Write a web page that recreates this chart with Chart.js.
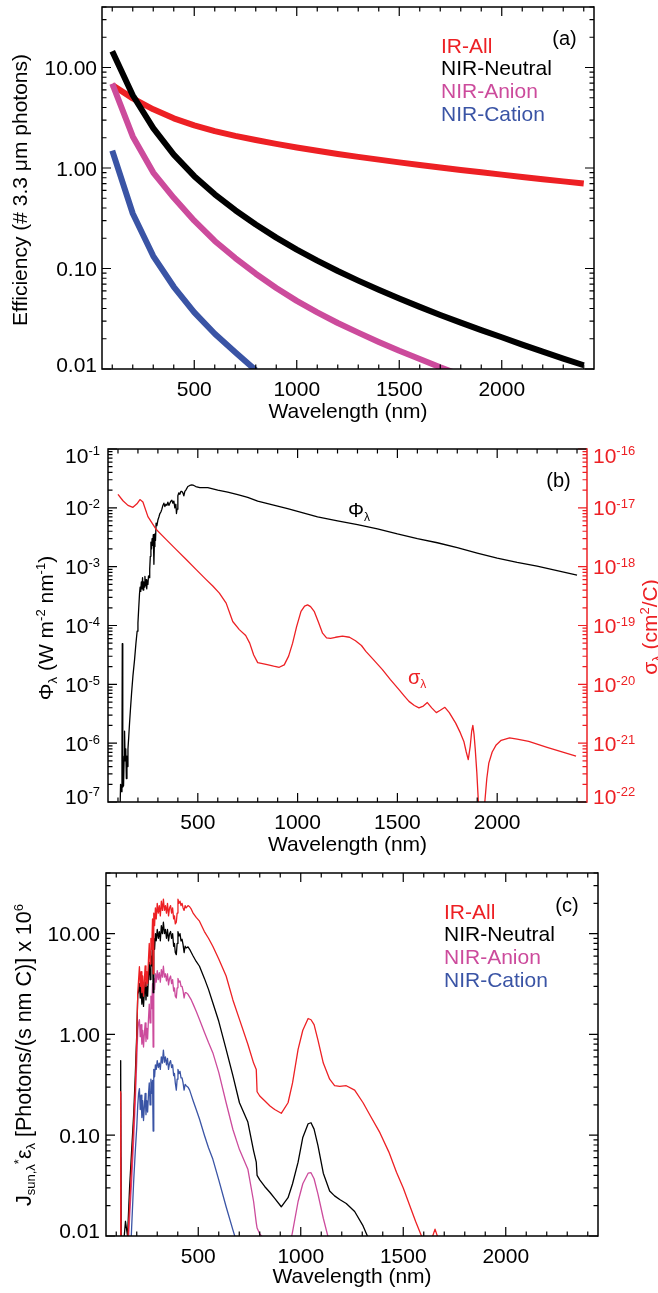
<!DOCTYPE html>
<html>
<head>
<meta charset="utf-8">
<script src="https://cdn.jsdelivr.net/npm/chart.js@4.4.1/dist/chart.umd.min.js"></script>
<style>
  body { margin: 0; background: #fff; }
  canvas { position: absolute; left: 0; }
</style>
</head>
<body>
<canvas id="panel-a" width="658" height="432" style="top:0"></canvas>
<canvas id="panel-b" width="658" height="432" style="top:432px"></canvas>
<canvas id="panel-c" width="658" height="429" style="top:864px"></canvas>
<script>
// ---- data: panel (a) efficiencies ----
const wavelengthA = [100, 200, 300, 400, 500, 600, 700, 800, 900, 1000, 1100, 1200,
                     1300, 1400, 1500, 1600, 1700, 1800, 1900, 2000, 2100, 2200, 2300, 2400];
const irAllA = [6.7, 4.93, 3.84, 3.12, 2.66, 2.33, 2.09, 1.897, 1.738, 1.600, 1.483, 1.380,
                1.291, 1.211, 1.138, 1.072, 1.012, 0.957, 0.906, 0.859, 0.815, 0.774, 0.736, 0.700];
const nirNeutralA = [14.5, 5.3, 2.49, 1.36, 0.83, 0.547, 0.380, 0.274, 0.203, 0.154, 0.1197, 0.0944,
                     0.0757, 0.0614, 0.0502, 0.0415, 0.0345, 0.0289, 0.0244, 0.0207, 0.0175, 0.0149, 0.0127, 0.0109];
const nirAnionA = [6.9, 2.06, 0.90, 0.505, 0.299, 0.188, 0.127, 0.0887, 0.0640, 0.0476, 0.0366, 0.0287,
                   0.0230, 0.0186, 0.0152, 0.0126, 0.0104, 0.0087];
const nirCationA = [1.49, 0.353, 0.133, 0.0658, 0.0366, 0.0224, 0.0147, 0.0097];

// ---- data: panel (b) solar flux and cross section ----
const phiWl = [108, 113, 117, 120, 121.6, 123, 125, 128, 131, 133,
  136, 139, 142, 145, 148, 150, 154, 158, 163, 168,
  175, 183, 190, 196, 200, 204, 208, 211, 214, 217,
  220, 223, 226, 229, 232, 235, 238, 241, 244, 247,
  250, 253, 256, 259, 262, 265, 268, 271, 274, 277,
  280, 282, 285, 288, 291, 295, 300, 305, 310, 315,
  320, 325, 330, 335, 340, 345, 350, 355, 360, 365,
  370, 375, 380, 385, 390, 393, 396, 400, 405, 410,
  415, 420, 425, 430, 435, 440, 450, 460, 470, 480,
  490, 500, 510, 520, 550, 575, 600, 650, 700, 750,
  800, 850, 900, 950, 1000, 1050, 1100, 1150, 1200, 1300,
  1400, 1500, 1600, 1700, 1800, 1900, 2000, 2100, 2200, 2300,
  2400];
const phiFlux = [3e-8, 2e-7, 1.5e-7, 5e-7, 4.9e-5, 5e-7, 1.8e-7, 1.9e-7, 6e-7, 1.6e-6,
  5e-7, 8e-7, 2.5e-7, 6e-7, 4e-7, 8e-7, 1.3e-6, 2.2e-6, 4e-6, 7e-6,
  1.4e-5, 2.6e-5, 5e-5, 8e-5, 1.1e-4, 2e-4, 3.5e-4, 4.5e-4, 3.8e-4, 5.5e-4,
  4.2e-4, 6.5e-4, 4e-4, 5.5e-4, 4.5e-4, 6.8e-4, 4.8e-4, 6e-4, 4.2e-4, 5.8e-4,
  5e-4, 7e-4, 6.5e-4, 9e-4, 1.5e-3, 2.6e-3, 2e-3, 3e-3, 2.3e-3, 3.5e-3,
  1.1e-3, 2.2e-3, 3.6e-3, 2.8e-3, 5.5e-3, 5e-3, 6.2e-3, 7e-3, 8e-3, 8.5e-3,
  9.5e-3, 1.1e-2, 1.2e-2, 1.05e-2, 1.15e-2, 1.1e-2, 1.25e-2, 1.1e-2, 1.2e-2, 1.3e-2,
  1.35e-2, 1.2e-2, 1.3e-2, 1.0e-2, 1.15e-2, 8e-3, 9.5e-3, 1.6e-2, 1.8e-2, 1.7e-2,
  1.9e-2, 1.9e-2, 1.8e-2, 1.6e-2, 1.9e-2, 2.0e-2, 2.3e-2, 2.4e-2, 2.45e-2, 2.4e-2,
  2.3e-2, 2.25e-2, 2.2e-2, 2.2e-2, 2.2e-2, 2.1e-2, 2.0e-2, 1.85e-2, 1.67e-2, 1.5e-2,
  1.3e-2, 1.18e-2, 1.07e-2, 9.7e-3, 8.7e-3, 7.8e-3, 7.0e-3, 6.5e-3, 6.0e-3, 5.2e-3,
  4.4e-3, 3.6e-3, 3.0e-3, 2.55e-3, 2.1e-3, 1.7e-3, 1.4e-3, 1.18e-3, 1.02e-3, 0.86e-3,
  0.72e-3];
const sigmaWl = [100, 125, 150, 175, 195, 210, 225, 250, 292, 342,
  392, 442, 492, 542, 575, 608, 642, 675, 708, 740,
  760, 780, 800, 842, 880, 908, 933, 955, 975, 995,
  1017, 1035, 1050, 1065, 1083, 1105, 1125, 1145, 1165, 1190,
  1225, 1260, 1290, 1320, 1342, 1380, 1425, 1465, 1508, 1535,
  1558, 1585, 1608, 1630, 1650, 1672, 1695, 1715, 1738, 1760,
  1792, 1815, 1833, 1845, 1855, 1865, 1872, 1878, 1884, 1890,
  1898, 1905, 1912, 1920, 1930, 1938, 1948, 1958, 1975, 1995,
  2020, 2062, 2100, 2158, 2250, 2395];
const sigmaCross = [1.70e-17, 1.32e-17, 1.10e-17, 1.02e-17, 1.17e-17, 1.38e-17, 1.26e-17, 7.08e-18, 4.27e-18, 2.88e-18,
  1.95e-18, 1.32e-18, 8.91e-19, 6.03e-19, 4.68e-19, 3.55e-19, 2.40e-19, 1.17e-19, 8.51e-20, 6.76e-20,
  5.01e-20, 3.16e-20, 2.34e-20, 2.19e-20, 2.04e-20, 1.95e-20, 2.14e-20, 3.02e-20, 5.01e-20, 9.55e-20,
  1.74e-19, 2.14e-19, 2.24e-19, 2.09e-19, 1.74e-19, 1.12e-19, 7.41e-20, 6.17e-20, 6.03e-20, 6.31e-20,
  6.61e-20, 6.31e-20, 5.50e-20, 4.57e-20, 3.63e-20, 2.63e-20, 1.78e-20, 1.20e-20, 8.13e-21, 6.31e-21,
  5.13e-21, 4.37e-21, 3.98e-21, 4.27e-21, 4.90e-21, 3.98e-21, 3.31e-21, 3.63e-21, 4.07e-21, 3.31e-21,
  2.19e-21, 1.51e-21, 1.07e-21, 7.08e-22, 5.25e-22, 8.91e-22, 1.58e-21, 2.00e-21, 1.41e-21, 7.94e-22,
  3.16e-22, 1.12e-22, 2.51e-23, 3.16e-24, 2.51e-23, 1.00e-22, 2.51e-22, 4.57e-22, 7.08e-22, 9.33e-22,
  1.12e-21, 1.23e-21, 1.17e-21, 1.07e-21, 8.51e-22, 6.03e-22];

// ---- data: panel (c) J_sun * eps ----
const wavelengthC = [110, 119, 121.6, 124, 135, 145, 155, 165, 175, 185,
  193, 200, 205, 209, 213, 217, 221, 225, 229, 233,
  237, 241, 245, 249, 253, 257, 261, 265, 269, 273,
  277, 280, 283, 287, 291, 295, 300, 305, 310, 315,
  320, 325, 330, 335, 340, 345, 350, 355, 360, 365,
  370, 375, 380, 384, 388, 393, 397, 401, 406, 411,
  416, 421, 426, 431, 436, 441, 450, 458, 466, 475,
  490, 506, 530, 550, 571, 600, 636, 669, 701, 742,
  770, 783, 787, 800, 824, 850, 873, 905, 938, 960,
  987, 1010, 1036, 1050, 1065, 1084, 1110, 1141, 1165, 1190,
  1222, 1263, 1304, 1340, 1386, 1430, 1467, 1500, 1532, 1560,
  1589, 1620, 1640, 1655, 1670, 1700];
const irAllC = [0.002, 0.003, 0.27, 0.003, 0.002, 0.003, 0.008, 0.02, 0.05, 0.13,
  0.3, 0.9, 2.6, 3.5, 4.7, 3.0, 4.2, 2.6, 3.8, 2.4,
  3.4, 4.8, 3.0, 4.2, 3.2, 5.5, 8.0, 5.0, 9.0, 7.0,
  14, 4.0, 16, 12, 18, 14, 20, 16, 19, 15,
  21, 17, 22, 17, 19, 16, 20, 15, 18, 19,
  16, 18, 14, 15, 12.5, 13, 16, 22, 20, 21,
  19, 20, 18, 17, 19, 18, 19, 18.5, 17.5, 16,
  14.5, 13.3, 10.5, 9, 7.5, 5.6, 3.8, 2.2, 1.41, 0.80,
  0.52, 0.45, 0.27, 0.245, 0.22, 0.195, 0.18, 0.165, 0.21, 0.33,
  0.71, 1.1, 1.44, 1.40, 1.25, 0.88, 0.52, 0.36, 0.31, 0.305,
  0.31, 0.28, 0.21, 0.155, 0.106, 0.068, 0.043, 0.030, 0.020, 0.014,
  0.010, 0.007, 0.0095, 0.0117, 0.0095, 0.006];
const nirNeutralC = [0.002, 0.004, 0.55, 0.004, 0.008, 0.014, 0.01, 0.03, 0.07, 0.16,
  0.4, 1.0, 2.5, 2.7, 3.2, 2.3, 3.0, 2.0, 2.8, 1.9,
  2.6, 3.3, 2.2, 3.0, 2.4, 3.8, 5.2, 3.5, 6.0, 4.8,
  8.5, 2.6, 9.0, 7.0, 10, 8.5, 11, 9.0, 10.5, 8.5,
  12, 10, 13, 10, 11, 9, 11, 8.5, 10, 10.5,
  9, 10, 7.5, 8, 6.5, 6.2, 8, 10.5, 9.5, 10,
  8.5, 8.8, 7.8, 6.5, 7.5, 7.2, 7.4, 7.0, 6.5, 6.0,
  5.3, 4.75, 3.6, 2.8, 2.06, 1.35, 0.71, 0.39, 0.21, 0.135,
  0.07, 0.054, 0.040, 0.036, 0.031, 0.027, 0.0236, 0.0195, 0.024, 0.033,
  0.054, 0.095, 0.13, 0.133, 0.115, 0.079, 0.042, 0.028, 0.025, 0.023,
  0.021, 0.0175, 0.0126, 0.0085];
const nirAnionC = [0.002, 0.003, 0.26, 0.003, 0.002, 0.003, 0.006, 0.015, 0.035, 0.09,
  0.22, 0.55, 1.1, 1.3, 1.4, 0.95, 1.25, 0.8, 1.1, 0.75,
  1.0, 1.3, 0.85, 1.15, 0.9, 1.4, 2.0, 1.3, 2.4, 1.8,
  3.2, 0.75, 3.6, 2.8, 4.0, 3.3, 4.3, 3.5, 4.1, 3.3,
  4.4, 3.7, 4.75, 3.7, 4.0, 3.4, 4.0, 3.1, 3.6, 3.8,
  3.2, 3.5, 2.7, 2.9, 2.4, 2.3, 2.9, 3.6, 3.3, 3.4,
  3.0, 3.0, 2.7, 2.3, 2.6, 2.6, 2.5, 2.35, 2.2, 2.0,
  1.7, 1.41, 1.05, 0.83, 0.66, 0.42, 0.21, 0.114, 0.072, 0.046,
  0.022, 0.0135, 0.012, 0.0105, 0.0092, 0.0065, 0.005, 0.004, 0.0065, 0.011,
  0.022, 0.033, 0.042, 0.0425, 0.037, 0.026, 0.015, 0.0085];
const nirCationC = [0.001, 0.001, 0.06, 0.001, 0.001, 0.001, 0.002, 0.004, 0.012, 0.035,
  0.07, 0.12, 0.2, 0.26, 0.29, 0.18, 0.25, 0.15, 0.22, 0.14,
  0.19, 0.26, 0.16, 0.22, 0.17, 0.25, 0.33, 0.2, 0.36, 0.26,
  0.35, 0.11, 0.45, 0.38, 0.5, 0.45, 0.55, 0.47, 0.52, 0.45,
  0.6, 0.52, 0.7, 0.53, 0.6, 0.5, 0.58, 0.45, 0.52, 0.55,
  0.47, 0.5, 0.39, 0.41, 0.33, 0.28, 0.36, 0.45, 0.41, 0.43,
  0.37, 0.37, 0.33, 0.28, 0.32, 0.31, 0.3, 0.28, 0.25, 0.22,
  0.18, 0.145, 0.1, 0.075, 0.058, 0.036, 0.0195, 0.0115, 0.007];

// ---- tick labels ----
const xTickValues = [500, 1000, 1500, 2000];
const effTickValues = [0.01, 0.1, 1, 10];
const fluxTickExps = [-7, -6, -5, -4, -3, -2, -1];
const sigmaTickExps = [-22, -21, -20, -19, -18, -17, -16];
const seriesNames = ['IR-All', 'NIR-Neutral', 'NIR-Anion', 'NIR-Cation'];

const FONT = "'Liberation Sans', Arial, Helvetica, sans-serif";
const RED = '#ed2024', MAGENTA = '#cc4b9c', BLUE = '#3a54a5', BLACK = '#000000';
const seriesColors = [RED, BLACK, MAGENTA, BLUE];
const TICK_SIZE = 21;

// text with sub/superscripts, y is the vertical middle of the caps
function drawRich(ctx, parts, x, y, size, align, color, rot) {
    const items = parts.map(([t, k]) => {
        const fs = k ? Math.round(size * 0.6) : size;
        ctx.font = fs + 'px ' + FONT;
        return { t, k, fs, w: ctx.measureText(t).width };
    });
    const total = items.reduce((s, it) => s + it.w, 0);
    ctx.save();
    ctx.translate(x, y);
    if (rot) ctx.rotate(rot);
    ctx.fillStyle = color;
    ctx.textAlign = 'left';
    ctx.textBaseline = 'alphabetic';
    let cx = align === 'center' ? -total / 2 : align === 'right' ? -total : 0;
    const base = size * 0.36;
    items.forEach(it => {
        ctx.font = it.fs + 'px ' + FONT;
        const dy = it.k === 'sup' ? -size * 0.34 : it.k === 'sub' ? size * 0.2 : 0;
        ctx.fillText(it.t, cx, base + dy);
        cx += it.w;
    });
    ctx.restore();
}

// IDL style box: inward ticks on every side, y labels, free texts
const idlFrame = {
    id: 'idlFrame',
    afterDatasetsDraw(chart, args, opts) {
        const ctx = chart.ctx;
        const { left, right, top, bottom } = chart.chartArea;
        const xs = chart.scales.x;
        ctx.save();
        ctx.lineWidth = 1.2;
        ctx.strokeStyle = BLACK;
        ctx.beginPath();
        for (let v = 100; v <= xs.max; v += 100) {
            const px = xs.getPixelForValue(v);
            const len = v % 500 === 0 ? 9 : 4.5;
            ctx.moveTo(px, bottom); ctx.lineTo(px, bottom - len);
            ctx.moveTo(px, top); ctx.lineTo(px, top + len);
        }
        ctx.stroke();

        opts.yAxes.forEach(a => {
            const s = chart.scales[a.scale];
            const edge = a.side === 'left' ? left : right;
            const dir = a.side === 'left' ? 1 : -1;
            ctx.strokeStyle = a.color;
            ctx.lineWidth = 1.2;
            ctx.beginPath();
            const e0 = Math.floor(Math.log10(s.min)) - 1;
            const e1 = Math.ceil(Math.log10(s.max));
            for (let e = e0; e <= e1; e++) {
                for (let k = 1; k <= 9; k++) {
                    const v = k * Math.pow(10, e);
                    if (v < s.min * 0.999 || v > s.max * 1.001) continue;
                    const py = s.getPixelForValue(v);
                    ctx.moveTo(edge, py);
                    ctx.lineTo(edge + dir * (k === 1 ? 9 : 4.5), py);
                }
            }
            ctx.stroke();
            (a.labels || []).forEach(lab => {
                let py = s.getPixelForValue(lab.v);
                if (Math.abs(lab.v / s.min - 1) < 1e-6) py += a.shiftMin || 0;
                if (Math.abs(lab.v / s.max - 1) < 1e-6) py += a.shiftMax || 0;
                const px = a.side === 'left' ? edge - a.gap : edge + a.gap;
                drawRich(ctx, lab.parts, px, py, a.size || TICK_SIZE, a.side === 'left' ? 'right' : 'left', a.color);
            });
        });

        ctx.lineWidth = 1.5;
        ctx.strokeStyle = BLACK;
        ctx.beginPath();
        ctx.moveTo(right, top); ctx.lineTo(left, top); ctx.lineTo(left, bottom); ctx.lineTo(right, bottom);
        ctx.stroke();
        ctx.strokeStyle = opts.rightColor || BLACK;
        ctx.beginPath();
        ctx.moveTo(right, top - 0.75); ctx.lineTo(right, bottom + 0.75);
        ctx.stroke();

        (opts.texts || []).forEach(t =>
            drawRich(ctx, t.parts, t.x, t.y, t.size || 20, t.align || 'left', t.color || BLACK, t.rot || 0));
        ctx.restore();
    }
};

function line(xs, ys, color, width, order, yAxisID) {
    return {
        data: ys.map((y, i) => ({ x: xs[i], y })),
        borderColor: color,
        borderWidth: width,
        pointRadius: 0,
        tension: 0,
        fill: false,
        clip: 0,
        order: order,
        borderJoinStyle: 'round',
        yAxisID: yAxisID || 'y'
    };
}

function xScale(height, titlePad) {
    return {
        type: 'linear', min: 50, max: 2450, bounds: 'data',
        grid: { display: false, drawTicks: false },
        border: { display: false },
        afterBuildTicks: s => { s.ticks = xTickValues.map(v => ({ value: v })); },
        afterFit: s => { s.height = height; },
        ticks: {
            color: BLACK, padding: 10.5, maxRotation: 0, autoSkip: false,
            font: { family: FONT, size: TICK_SIZE, lineHeight: 1 },
            callback: v => String(v)
        },
        title: {
            display: true, text: 'Wavelength (nm)', color: BLACK,
            font: { family: FONT, size: 21, lineHeight: 1 },
            padding: { top: 0, bottom: titlePad }
        }
    };
}

function yScale(min, max, width, position) {
    return {
        type: 'logarithmic', min, max, position, bounds: 'data',
        grid: { display: false, drawTicks: false },
        border: { display: false },
        ticks: { display: false },
        afterFit: s => { s.width = width; }
    };
}

function legendTexts(x, y0, step) {
    return seriesNames.map((n, i) => ({ parts: [[n, '']], x, y: y0 + i * step, size: 21, color: seriesColors[i] }));
}

const baseOptions = { responsive: false, animation: false, events: [] };
const effLabels = effTickValues.map(v => ({ v, parts: [[v.toFixed(2), '']] }));

// ---- panel (a) ----
new Chart(document.getElementById('panel-a'), {
    type: 'line',
    data: {
        datasets: [
            line(wavelengthA, irAllA, RED, 6, 4),
            line(wavelengthA, nirNeutralA, BLACK, 6, 3),
            line(wavelengthA, nirAnionA, MAGENTA, 6, 2),
            line(wavelengthA, nirCationA, BLUE, 6, 1)
        ]
    },
    options: {
        ...baseOptions,
        layout: { padding: { left: 0, right: 64, top: 7, bottom: 0 } },
        scales: { x: xScale(63, 9.5), y: yScale(0.01, 40, 102, 'left') },
        plugins: {
            legend: { display: false }, tooltip: { enabled: false },
            idlFrame: {
                yAxes: [
                    { scale: 'y', side: 'left', color: BLACK, labels: effLabels, gap: 5, shiftMin: -5 },
                    { scale: 'y', side: 'right', color: BLACK }
                ],
                texts: [
                    { parts: [['Efficiency (# 3.3 μm photons)', '']], x: 19.5, y: 190, size: 21, align: 'center', rot: -Math.PI / 2 },
                    { parts: [['(a)', '']], x: 564.5, y: 37.5, align: 'center' },
                    ...legendTexts(441, 45, 22.8)
                ]
            }
        }
    },
    plugins: [idlFrame]
});

// ---- panel (b) ----
new Chart(document.getElementById('panel-b'), {
    type: 'line',
    data: {
        datasets: [
            line(phiWl, phiFlux, BLACK, 1.3, 2, 'yL'),
            line(sigmaWl, sigmaCross, RED, 1.3, 1, 'yR')
        ]
    },
    options: {
        ...baseOptions,
        layout: { padding: { left: 0, right: 0, top: 17, bottom: 0 } },
        scales: {
            x: xScale(62, 8.5),
            yL: yScale(1e-7, 1e-1, 108, 'left'),
            yR: yScale(1e-22, 1e-16, 71, 'right')
        },
        plugins: {
            legend: { display: false }, tooltip: { enabled: false },
            idlFrame: {
                rightColor: RED,
                yAxes: [
                    { scale: 'yL', side: 'left', color: BLACK, gap: 8, size: 21, shiftMin: -6, shiftMax: 6,
                      labels: fluxTickExps.map(e => ({ v: Math.pow(10, e), parts: [['10', ''], [String(e), 'sup']] })) },
                    { scale: 'yR', side: 'right', color: RED, gap: 6, size: 21, shiftMin: -6, shiftMax: 6,
                      labels: sigmaTickExps.map(e => ({ v: Math.pow(10, e), parts: [['10', ''], [String(e), 'sup']] })) }
                ],
                texts: [
                    { parts: [['Φ', ''], ['λ', 'sub'], [' (W m', ''], ['-2', 'sup'], [' nm', ''], ['-1', 'sup'], [')', '']],
                      x: 45, y: 196, size: 21, align: 'center', rot: -Math.PI / 2 },
                    { parts: [['σ', ''], ['λ', 'sub'], [' (cm', ''], ['2', 'sup'], ['/C)', '']],
                      x: 649, y: 195, size: 21, align: 'center', color: RED, rot: -Math.PI / 2 },
                    { parts: [['Φ', ''], ['λ', 'sub']], x: 348, y: 78 },
                    { parts: [['σ', ''], ['λ', 'sub']], x: 408, y: 245, color: RED },
                    { parts: [['(b)', '']], x: 558.5, y: 48, align: 'center' }
                ]
            }
        }
    },
    plugins: [idlFrame]
});

// ---- panel (c) ----
new Chart(document.getElementById('panel-c'), {
    type: 'line',
    data: {
        datasets: [
            line(wavelengthC, irAllC, RED, 1.3, 1),
            line(wavelengthC, nirNeutralC, BLACK, 1.3, 2),
            line(wavelengthC, nirAnionC, MAGENTA, 1.3, 3),
            line(wavelengthC, nirCationC, BLUE, 1.3, 4)
        ]
    },
    options: {
        ...baseOptions,
        layout: { padding: { left: 0, right: 60, top: 9, bottom: 0 } },
        scales: { x: xScale(57, 5.5), y: yScale(0.01, 40, 106, 'left') },
        plugins: {
            legend: { display: false }, tooltip: { enabled: false },
            idlFrame: {
                yAxes: [
                    { scale: 'y', side: 'left', color: BLACK, labels: effLabels, gap: 6, shiftMin: -6 },
                    { scale: 'y', side: 'right', color: BLACK }
                ],
                texts: [
                    { parts: [['J', ''], ['sun,λ', 'sub'], ['*', 'sup'], ['ε', ''], ['λ', 'sub'],
                              [' [Photons/(s nm C)] x 10', ''], ['6', 'sup']],
                      x: 23, y: 191, size: 21.5, align: 'center', rot: -Math.PI / 2 },
                    { parts: [['(c)', '']], x: 567, y: 40.7, align: 'center' },
                    ...legendTexts(444, 47, 22.9)
                ]
            }
        }
    },
    plugins: [idlFrame]
});
</script>
</body>
</html>
